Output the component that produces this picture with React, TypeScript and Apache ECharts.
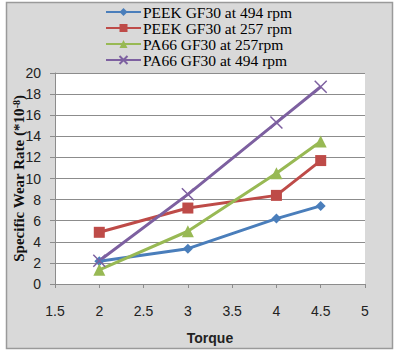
import React, { useEffect, useRef } from "react";
import * as echarts from "echarts";

const torque = [2, 3, 4, 4.5];
const peek494 = [2.15, 3.35, 6.2, 7.4];
const peek257 = [4.9, 7.2, 8.4, 11.7];
const pa66257 = [1.35, 5.0, 10.5, 13.5];
const pa66494 = [2.2, 8.5, 15.3, 18.7];
const seriesNames = [
  "PEEK GF30 at 494 rpm",
  "PEEK GF30 at 257 rpm",
  "PA66 GF30 at 257rpm",
  "PA66 GF30 at 494 rpm",
];

const pair = (ys: number[]) => torque.map((x, i) => [x, ys[i]]);

export default function App() {
  const ref = useRef<HTMLDivElement>(null);
  useEffect(() => {
    document.body.style.margin = "0";
    const chart = echarts.init(ref.current!, null, { renderer: "svg" });
    const colors = ["#4a7ebb", "#be4b48", "#98b954", "#7d60a0"];
    const symbols = [
      "diamond",
      "rect",
      "triangle",
      "path://M0,0L10,10M10,0L0,10",
    ];
    const sizes = [10, 11, 12, 12];
    const datas = [peek494, peek257, pa66257, pa66494];
    chart.setOption({
      animation: false,
      backgroundColor: "#ffffff",
      graphic: [
        {
          type: "rect",
          z: -10,
          shape: { x: 6.5, y: 2.5, width: 386, height: 346 },
          style: { fill: "#d9d9d9", stroke: "#9a9a9a", lineWidth: 1.5 },
          silent: true,
        },
      ],
      legend: {
        orient: "vertical",
        left: 105,
        top: 4,
        padding: 0,
        itemWidth: 35,
        itemHeight: 10,
        itemGap: 0,
        textStyle: {
          fontFamily: "Liberation Serif",
          fontSize: 15.5,
          color: "#000",
          lineHeight: 15.5,
          padding: [0, 0, 0, -3],
        },
        data: seriesNames,
      },
      grid: {
        left: 55,
        right: 35,
        top: 73,
        bottom: 69,
        show: true,
        backgroundColor: "#ffffff",
        borderWidth: 0,
        outerBoundsMode: "none",
        containLabel: false,
      },
      xAxis: {
        type: "value",
        min: 1.5,
        max: 5,
        interval: 0.5,
        name: "Torque",
        nameLocation: "middle",
        nameGap: 47,
        nameMoveOverlap: false,
        nameTextStyle: {
          fontFamily: "Liberation Sans",
          fontWeight: "bold",
          fontSize: 14,
          color: "#222",
        },
        axisLine: { show: true, lineStyle: { color: "#8c8c8c", width: 1 } },
        axisTick: { show: true, length: 4, lineStyle: { color: "#8c8c8c" } },
        splitLine: { show: false },
        axisLabel: {
          margin: 20,
          fontFamily: "Liberation Sans",
          fontSize: 14,
          color: "#222",
        },
      },
      yAxis: {
        type: "value",
        min: 0,
        max: 20,
        interval: 2,
        name: "Specific Wear Rate (*10{sup|-8})",
        nameLocation: "middle",
        nameGap: 29,
        nameMoveOverlap: false,
        nameTextStyle: {
          fontFamily: "Liberation Serif",
          fontWeight: "bold",
          fontSize: 15,
          color: "#111",
          rich: {
            sup: {
              fontFamily: "Liberation Serif",
              fontWeight: "bold",
              fontSize: 10,
              verticalAlign: "top",
              color: "#111",
            },
          },
        },
        axisLine: { show: true, lineStyle: { color: "#8c8c8c", width: 1 } },
        axisTick: { show: true, length: 5, lineStyle: { color: "#8c8c8c" } },
        splitLine: { show: true, lineStyle: { color: "#8c8c8c", width: 1 } },
        axisLabel: {
          margin: 14,
          fontFamily: "Liberation Sans",
          fontSize: 14,
          color: "#222",
        },
      },
      series: datas.map((d, i) => ({
        name: seriesNames[i],
        type: "line",
        data: pair(d),
        symbol: symbols[i],
        symbolSize: sizes[i],
        lineStyle: { color: colors[i], width: 3 },
        itemStyle: {
          color: colors[i],
          borderColor: colors[i],
          borderWidth: i === 3 ? 1.5 : 0,
        },
      })),
    });
    return () => chart.dispose();
  }, []);
  return <div ref={ref} style={{ width: 400, height: 353 }} />;
}
